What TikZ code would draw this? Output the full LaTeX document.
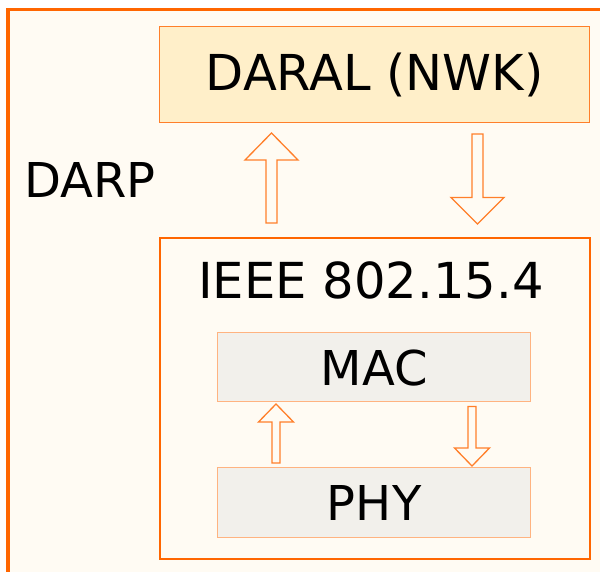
\documentclass[tikz,border=0pt]{standalone}
\usepackage{fontspec}
\setmainfont{DejaVu Sans}
\definecolor{bgcream}{HTML}{FFFBF3}
\definecolor{frameor}{HTML}{FF6600}
\definecolor{midor}{HTML}{FF7F2A}
\definecolor{lightor}{HTML}{FFB380}
\definecolor{nwkfill}{HTML}{FFEFC9}
\definecolor{greyfill}{HTML}{F2F0EB}
\tikzset{
  bigtext/.style={font=\fontsize{48}{54}\selectfont, text=black},
  layerbox/.style={draw=midor, line width=1.3pt, fill=nwkfill, inner sep=0pt},
  stackbox/.style={draw=frameor, line width=2pt, fill=bgcream, inner sep=0pt},
  subbox/.style={draw=lightor, line width=1.3pt, fill=greyfill, inner sep=0pt},
  blockarrow/.style={draw=midor, line width=1.3pt, fill=bgcream, line join=miter},
}
\begin{document}
\begin{tikzpicture}[x=1pt,y=-1pt]
\useasboundingbox (0,0) rectangle (600,572);
\begin{scope}
\clip (0,0) rectangle (600,572);
\fill[white] (0,0) rectangle (600,572);
\draw[draw=frameor, line width=3.4pt, fill=bgcream] (7.9,9.6) rectangle (640,620);
\end{scope}
% nodes
\node[layerbox, minimum width=430pt, minimum height=96pt, anchor=north west] (nwk) at (159,26) {};
\node[bigtext, font=\fontsize{49.5}{54}\selectfont] at (nwk.center) {DARAL (NWK)};
\node[bigtext] (darp) at (90,180) {DARP};
\node[stackbox, minimum width=430pt, minimum height=321pt, anchor=north west] (ieee) at (159,237) {};
\node[bigtext, font=\fontsize{49.6}{54}\selectfont] (ieeetxt) at (371,280) {IEEE 802.15.4};
\node[subbox, minimum width=313pt, minimum height=69pt, anchor=north west] (mac) at (217,332) {};
\node[bigtext] at ([yshift=-1pt]mac.center) {MAC};
\node[subbox, minimum width=313pt, minimum height=70pt, anchor=north west] (phy) at (217,467) {};
\node[bigtext] at (phy.center) {PHY};
% big arrows
\draw[blockarrow] (266,223) -- (266,160) -- (245,160) -- (271.5,133) -- (298,160) -- (277,160) -- (277,223) -- cycle;
\draw[blockarrow] (472,134) -- (472,197.5) -- (451,197.5) -- (477.5,224) -- (504,197.5) -- (483,197.5) -- (483,134) -- cycle;
% small arrows
\draw[blockarrow] (272,463) -- (272,422) -- (258.5,422) -- (276,404) -- (293.5,422) -- (280,422) -- (280,463) -- cycle;
\draw[blockarrow] (468,406.5) -- (468,448) -- (454.5,448) -- (472,466) -- (489.5,448) -- (476,448) -- (476,406.5) -- cycle;
\end{tikzpicture}
\end{document}
